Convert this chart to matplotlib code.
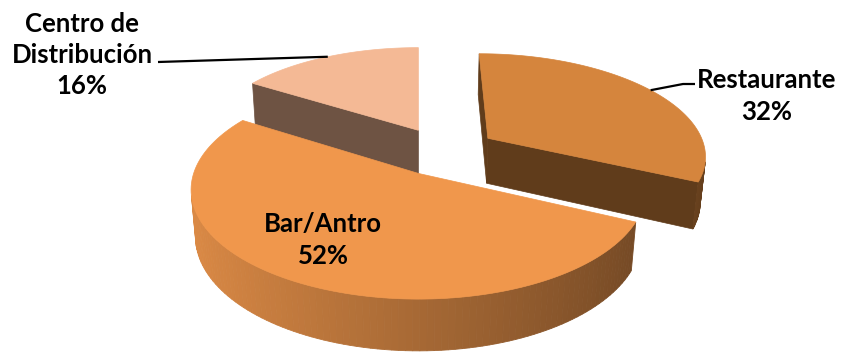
import numpy as np
import matplotlib.pyplot as plt
from matplotlib.patches import Polygon

categories = ['Restaurante', 'Bar/Antro', 'Centro de\nDistribución']
values = [32, 52, 16]
top_colors = ['#d5853d', '#f0974c', '#f4b995']

# label block centres and leader elbows, in pixels
label_pos = [(767, 96), (323, 240), (82, 55)]
leader_via = [[(683, 84), (695, 84)], None, [(158, 62)]]

# 3d view of the pie (pixel space)
cx, cy = 418, 174
scale = 225
elev = np.radians(28.4)
dist = 5.87
thick = 0.24
explode = 0.245
origin = np.array([0.12, 0.22])
start = 90.0

cam = np.array([0, -dist * np.cos(elev), dist * np.sin(elev)])


def project(x, y, z):
    depth = dist + y * np.cos(elev) - z * np.sin(elev)
    u = x * dist / depth
    v = (y * np.sin(elev) + z * np.cos(elev)) * dist / depth
    return cx + scale * u, cy - scale * v


def shade(color, k):
    rgb = np.array(plt.matplotlib.colors.to_rgb(color))
    return tuple(np.clip(rgb * k, 0, 1))


def facing(pt, normal):
    return np.dot(normal, cam - np.asarray(pt)) > 0


fig = plt.figure(figsize=(8.43, 3.56), dpi=100)
ax = fig.add_axes([0, 0, 1, 1])
ax.set_xlim(0, 843)
ax.set_ylim(356, 0)
ax.axis('off')

slices = []
a0 = start
for cat, val, col in zip(categories, values, top_colors):
    a1 = a0 - 360 * val / 100
    mid = np.radians((a0 + a1) / 2)
    c = origin + explode * np.array([np.cos(mid), np.sin(mid)])
    slices.append(dict(cat=cat, val=val, col=col, a0=a0, a1=a1, mid=mid, c=c))
    a0 = a1

# back slices first
order = sorted(range(len(slices)), key=lambda i: -slices[i]['c'][1])

for i in order:
    s = slices[i]
    c = s['c']
    th = np.radians(np.linspace(s['a1'], s['a0'], 120))
    rx = c[0] + np.cos(th)
    ry = c[1] + np.sin(th)

    # cut faces
    for ang, sign in ((s['a0'], 1), (s['a1'], -1)):
        a = np.radians(ang)
        n = np.array([np.cos(a + sign * np.pi / 2), np.sin(a + sign * np.pi / 2), 0])
        ex, ey = c[0] + np.cos(a), c[1] + np.sin(a)
        if facing((c[0], c[1], -thick / 2), n):
            pts = [project(c[0], c[1], 0), project(ex, ey, 0),
                   project(ex, ey, -thick), project(c[0], c[1], -thick)]
            fc = shade(s['col'], 0.45)
            ax.add_patch(Polygon(pts, closed=True, fc=fc, ec=fc, lw=0.5))

    # outer wall
    for j in range(len(th) - 1):
        tm = (th[j] + th[j + 1]) / 2
        n = np.array([np.cos(tm), np.sin(tm), 0])
        p = (c[0] + np.cos(tm), c[1] + np.sin(tm), -thick / 2)
        if not facing(p, n):
            continue
        k = 0.695 + 0.225 * np.cos(tm - np.pi)
        fc = shade(s['col'], k)
        pts = [project(rx[j], ry[j], 0), project(rx[j + 1], ry[j + 1], 0),
               project(rx[j + 1], ry[j + 1], -thick), project(rx[j], ry[j], -thick)]
        ax.add_patch(Polygon(pts, closed=True, fc=fc, ec=fc, lw=0.6))

    # top face
    pts = [project(c[0], c[1], 0)] + [project(x, y, 0) for x, y in zip(rx, ry)]
    ax.add_patch(Polygon(pts, closed=True, fc=s['col'], ec=s['col'], lw=0.5))

font = dict(family=['Lato', 'DejaVu Sans'], weight='bold', size=18.5)
for s, (lx, ly), via in zip(slices, label_pos, leader_via):
    ax.text(lx, ly, f"{s['cat']}\n{s['val']}%", ha='center', va='center',
            multialignment='center', linespacing=1.36, color='black', **font)
    if via is not None:
        c = s['c']
        rim = project(c[0] + np.cos(s['mid']), c[1] + np.sin(s['mid']), 0)
        path = [rim] + via if via[0][0] > rim[0] else via + [rim]
        xs, ys = zip(*path)
        ax.plot(xs, ys, color='black', lw=1.6, solid_capstyle='butt')

fig.savefig('out.png', dpi=100)
